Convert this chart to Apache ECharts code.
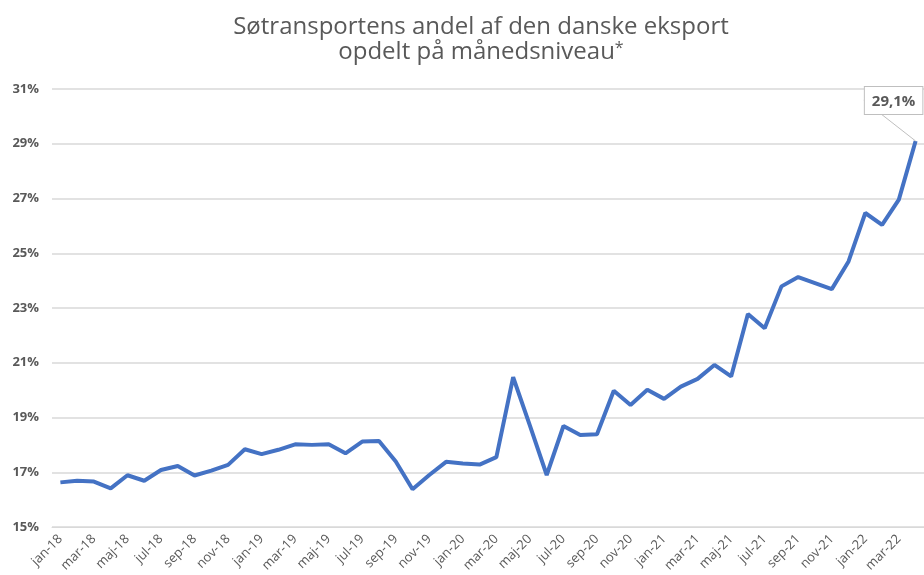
<!DOCTYPE html>
<html>
<head>
    <meta charset="utf-8">
    <title>Søtransportens andel af den danske eksport</title>
    <script src="https://cdn.jsdelivr.net/npm/echarts@6/dist/echarts.min.js"></script>
    <style>
        body { margin: 0; background: #fff; }
        #main { width: 924px; height: 575px; }
    </style>
</head>
<body>
    <div id="main"></div>
    <script type="text/javascript">
        var chart = echarts.init(document.getElementById('main'));

        // måneder jan-18 .. apr-22
        var months = [
            'jan-18', 'feb-18', 'mar-18', 'apr-18', 'maj-18', 'jun-18', 'jul-18', 'aug-18', 'sep-18', 'okt-18', 'nov-18', 'dec-18',
            'jan-19', 'feb-19', 'mar-19', 'apr-19', 'maj-19', 'jun-19', 'jul-19', 'aug-19', 'sep-19', 'okt-19', 'nov-19', 'dec-19',
            'jan-20', 'feb-20', 'mar-20', 'apr-20', 'maj-20', 'jun-20', 'jul-20', 'aug-20', 'sep-20', 'okt-20', 'nov-20', 'dec-20',
            'jan-21', 'feb-21', 'mar-21', 'apr-21', 'maj-21', 'jun-21', 'jul-21', 'aug-21', 'sep-21', 'okt-21', 'nov-21', 'dec-21',
            'jan-22', 'feb-22', 'mar-22', 'apr-22'
        ];

        // andel i procent
        var share = [
            16.63, 16.69, 16.66, 16.41, 16.89, 16.69, 17.08, 17.23, 16.88, 17.06, 17.27, 17.84,
            17.66, 17.82, 18.02, 18.00, 18.02, 17.69, 18.12, 18.14, 17.39, 16.38, 16.90, 17.38,
            17.32, 17.28, 17.55, 20.47, 18.70, 16.90, 18.69, 18.36, 18.39, 19.98, 19.46, 20.01,
            19.68, 20.13, 20.41, 20.92, 20.50, 22.78, 22.26, 23.79, 24.13, 23.91, 23.69, 24.70,
            26.47, 26.04, 26.96, 29.10
        ];

        var lastIdx = share.length - 1;

        var option = {
            backgroundColor: '#ffffff',
            title: {
                text: '{t|Søtransportens andel af den danske eksport}\n{t|opdelt på månedsniveau}{s|*}',
                left: 476,
                textAlign: 'center',
                top: 10,
                textStyle: {
                    fontWeight: 'normal',
                    rich: {
                        t: {
                            color: '#595959',
                            fontFamily: 'Open Sans',
                            fontWeight: 'normal',
                            fontSize: 24,
                            lineHeight: 25
                        },
                        s: {
                            color: '#595959',
                            fontFamily: 'Open Sans',
                            fontWeight: 'normal',
                            fontSize: 16,
                            lineHeight: 25,
                            verticalAlign: 'top'
                        }
                    }
                }
            },
            grid: {
                left: 52,
                right: -3,
                top: 89,
                bottom: 48
            },
            xAxis: {
                type: 'category',
                data: months,
                boundaryGap: true,
                axisLine: { lineStyle: { color: '#d9d9d9' } },
                axisTick: {
                    interval: 1,
                    length: 5,
                    lineStyle: { color: '#d9d9d9' }
                },
                axisLabel: {
                    interval: 1,
                    rotate: 45,
                    color: '#595959',
                    fontFamily: 'Open Sans',
                    fontSize: 13,
                    margin: 10
                }
            },
            yAxis: {
                type: 'value',
                min: 15,
                max: 31,
                interval: 2,
                axisLine: { show: false },
                axisTick: { show: false },
                splitLine: { lineStyle: { color: '#d9d9d9', width: 1.5 } },
                axisLabel: {
                    formatter: '{value}%',
                    color: '#595959',
                    fontFamily: 'Open Sans',
                    fontWeight: 'bold',
                    fontSize: 13,
                    margin: 13
                }
            },
            series: [{
                type: 'line',
                data: share.map(function (v, i) {
                    if (i !== lastIdx) return v;
                    return {
                        value: v,
                        label: {
                            show: true,
                            position: 'top',
                            formatter: function (p) {
                                return p.value.toFixed(1).replace('.', ',') + '%';
                            },
                            color: '#595959',
                            fontFamily: 'Open Sans',
                            fontWeight: 'bold',
                            fontSize: 15,
                            backgroundColor: '#ffffff',
                            borderColor: '#bfbfbf',
                            borderWidth: 1,
                            padding: [7, 7, 5, 7]
                        },
                        labelLine: {
                            show: true,
                            lineStyle: { color: '#bfbfbf', width: 1 }
                        }
                    };
                }),
                labelLayout: function (params) {
                    if (params.dataIndex !== lastIdx) return {};
                    return { dx: -22, dy: -22 };
                },
                showSymbol: true,
                symbol: 'circle',
                symbolSize: 0,
                lineStyle: { color: '#4472c4', width: 4 },
                itemStyle: { color: '#4472c4' },
                animation: false
            }]
        };

        chart.setOption(option);
    </script>
</body>
</html>
